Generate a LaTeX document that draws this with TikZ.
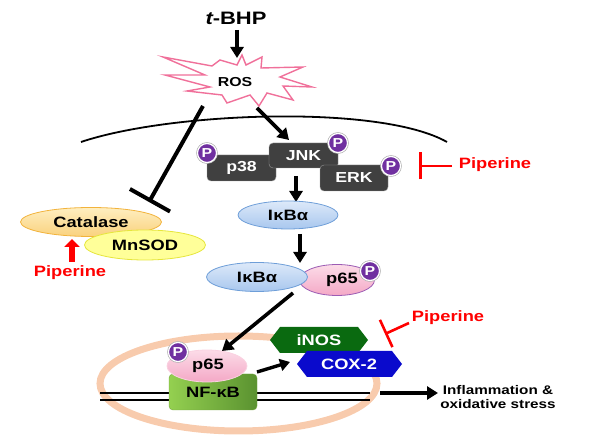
\documentclass[tikz,border=0pt]{standalone}
\usepackage{fontspec}
\setmainfont{Liberation Sans}[FakeStretch=1.22]
\usetikzlibrary{arrows.meta,shapes.geometric}
\newcommand{\fsz}[1]{\fontsize{#1}{#1}\selectfont\bfseries}
\definecolor{kgray}{HTML}{404040}
\definecolor{pcol}{HTML}{7030A0}
\definecolor{rospink}{HTML}{F0709A}
\definecolor{catTop}{HTML}{FFEFC0}
\definecolor{catBot}{HTML}{F9D27E}
\definecolor{catBd}{HTML}{F2B33C}
\definecolor{mnFill}{HTML}{FFFF99}
\definecolor{mnBd}{HTML}{E6E63C}
\definecolor{ikTop}{HTML}{DDE9F9}
\definecolor{ikBot}{HTML}{A8C7EE}
\definecolor{ikBd}{HTML}{6E9ED8}
\definecolor{pTop}{HTML}{FCDCE8}
\definecolor{pBot}{HTML}{F4A8C6}
\definecolor{pBd}{HTML}{9C5CB4}
\definecolor{nucl}{HTML}{F8CBAD}
\definecolor{nfL}{HTML}{94D050}
\definecolor{nfD}{HTML}{5A9230}
\definecolor{inosG}{HTML}{0A6A10}
\definecolor{coxB}{HTML}{0A0ACC}
\definecolor{pipR}{HTML}{FF0000}
\begin{document}
\begin{tikzpicture}[x=1pt,y=-1pt,
  blk/.style={line width=3.6pt,-{Triangle[length=11pt,width=13pt]}},
  inhK/.style={line width=4pt,-{Bar[width=46pt,line width=4pt]}},
  inhR/.style={pipR,line width=2.6pt,-{Bar[width=#1,line width=2.6pt]}},
  pcirc/.style={circle,fill=pcol,draw=white,line width=1.2pt,inner sep=0pt,minimum size=19pt,text=white,font=\fsz{13},
     preaction={draw=gray!60,line width=2.6pt}},
  kin/.style={rectangle,rounded corners=4pt,fill=kgray,draw=gray!80,line width=0.4pt,text=white,font=\fsz{14.5},minimum width=69pt,minimum height=26pt,inner sep=0pt},
  ell/.style={ellipse,inner sep=0pt,line width=0.8pt,font=\fsz{15}},
  ikb/.style={ell,top color=ikTop,bottom color=ikBot,draw=ikBd,minimum width=100pt,minimum height=28pt},
  pink/.style={ell,top color=pTop,bottom color=pBot,draw=pBd},
  lbl/.style={font=\fsz{15},inner sep=0pt},
  piper/.style={lbl,text=pipR},
  hexlbl/.style={font=\fsz{15},text=white,inner sep=0pt}
]
\useasboundingbox (0,0) rectangle (595,435);

% membrane
\draw[line width=1.8pt] (81,142) .. controls (170,112) and (380,104) .. (447,142);

% t-BHP and ROS
\node[font=\fsz{18},inner sep=0pt] (bhp) at (236,18) {{\itshape t}-BHP};
\coordinate (bhpEnd) at (237,30);
\coordinate (rosTop) at (237,58);
\draw[rospink,fill=white,line width=1.4pt]
  (163,57) -- (212,66) -- (220,60) -- (237,65) -- (242,55) -- (246,65) -- (262,57) -- (261,68)
  -- (303,67) -- (280,77) -- (312,87) -- (283,86) -- (293,100) -- (267,93) -- (259,106)
  -- (250,95) -- (227,103) -- (222,95) -- (187,91) -- (210,87) -- (165,75) -- (205,75) -- cycle;
\node[font=\fsz{13},inner sep=0pt] (ros) at (235,82) {ROS};
\draw[blk] (bhpEnd) -- (rosTop);

% ROS -> JNK
\coordinate (rosOut) at (257,108);
\coordinate (jnkIn) at (289,140);
\draw[blk] (rosOut) -- (jnkIn);

% ROS -| catalase
\coordinate (rosInh) at (203,106);
\coordinate (catInh) at (149,202);
\draw[inhK] (rosInh) -- (catInh);

% kinases
\node[kin] (p38) at (241.5,168) {p38};
\node[kin,minimum height=25pt] (jnk) at (303.5,155.5) {JNK};
\node[kin,minimum width=68pt] (erk) at (354,178) {ERK};
\node[pcirc] (pp38) at (207,153) {P};
\node[pcirc] (pjnk) at (338,143) {P};
\node[pcirc] (perk) at (391,166) {P};

% piperine inhibits ERK
\node[piper] (pip1) at (495,165) {Piperine};
\coordinate (pip1L) at (452,166);
\coordinate (pip1B) at (419,166);
\draw[inhR=27pt] (pip1L) -- (pip1B);

% IkBa
\coordinate (kinOut) at (296,176);
\coordinate (ik1In) at (296,202);
\draw[blk] (kinOut) -- (ik1In);
\node[ikb] (ik1) at (288,215) {I\kern0.5ptκBα};
\coordinate (ik1Out) at (300,234);
\coordinate (cplxIn) at (300,263);
\draw[blk] (ik1Out) -- (cplxIn);

% IkBa / p65 complex
\node[pink,minimum width=75pt,minimum height=31pt] (p65a) at (337,280) {\hspace*{10pt}p65};
\node[ikb,minimum width=101pt,minimum height=29pt] (ik2) at (257,277) {I\kern0.5ptκBα};
\node[pcirc] (pp65a) at (370,271) {P};

% catalase / MnSOD
\node[ell,top color=catTop,bottom color=catBot,draw=catBd,minimum width=141pt,minimum height=29pt] (cat) at (91,222) {Catalase};
\node[ell,fill=mnFill,draw=mnBd,minimum width=121pt,minimum height=30pt] (mn) at (145,245) {MnSOD};
\node[piper] (pip2) at (70,273) {Piperine};
\coordinate (pip2Up) at (72,262);
\coordinate (catUp) at (72,239);
\draw[pipR,line width=6pt,-{Triangle[length=8pt,width=15pt]}] (pip2Up) -- (catUp);

% nucleus
\node[ellipse,draw=nucl,line width=7pt,minimum width=277pt,minimum height=95pt,inner sep=0pt] (nuc) at (238.5,383.5) {};
\coordinate (dnaL1) at (100,393);
\coordinate (dnaR1) at (370,393);
\coordinate (dnaL2) at (100,400);
\coordinate (dnaR2) at (370,400);
\draw[line width=1.8pt] (dnaL1) -- (dnaR1);
\draw[line width=1.8pt] (dnaL2) -- (dnaR2);
\coordinate (outA) at (380,393);
\coordinate (outB) at (438,393);
\draw[blk] (outA) -- (outB);
\node[font=\fsz{12.5},align=center,inner sep=0pt] (infl) at (498,397) {Inflammation \&\\[2pt]oxidative stress};

\node[rectangle,rounded corners=4pt,left color=nfL,right color=nfD,draw=nfL!80!black,line width=0.4pt,minimum width=88pt,minimum height=36pt,font=\fsz{15},inner sep=0pt] (nfkb) at (213,392) {NF-κB};
\node[pink,draw=pTop!80!pBot,minimum width=80pt,minimum height=32pt] (p65n) at (207,366) {\hspace*{2pt}p65};
\node[pcirc] (pp65n) at (178,352) {P};

% complex -> nuclear p65
\coordinate (cplxOut) at (293,293);
\coordinate (p65nIn) at (222,351);
\draw[blk] (cplxOut) -- (p65nIn);

% iNOS / COX-2
\fill[inosG] (270,340) -- (280,327) -- (358,327) -- (368,340) -- (358,353) -- (280,353) -- cycle;
\node[hexlbl] (inos) at (319,340) {iNOS};
\fill[coxB] (297,364) -- (307,351) -- (392,351) -- (402,364) -- (392,377) -- (307,377) -- cycle;
\node[hexlbl] (cox) at (349,364) {COX-2};
\coordinate (p65nOut) at (257,372);
\coordinate (coxIn) at (290,362);
\draw[line width=3.4pt,-{Triangle[length=10pt,width=12pt]}] (p65nOut) -- (coxIn);

% piperine inhibits iNOS/COX-2
\node[piper] (pip3) at (448,318) {Piperine};
\coordinate (pip3L) at (409,323);
\coordinate (pip3B) at (385,334);
\draw[inhR=30pt] (pip3L) -- (pip3B);
\end{tikzpicture}
\end{document}
